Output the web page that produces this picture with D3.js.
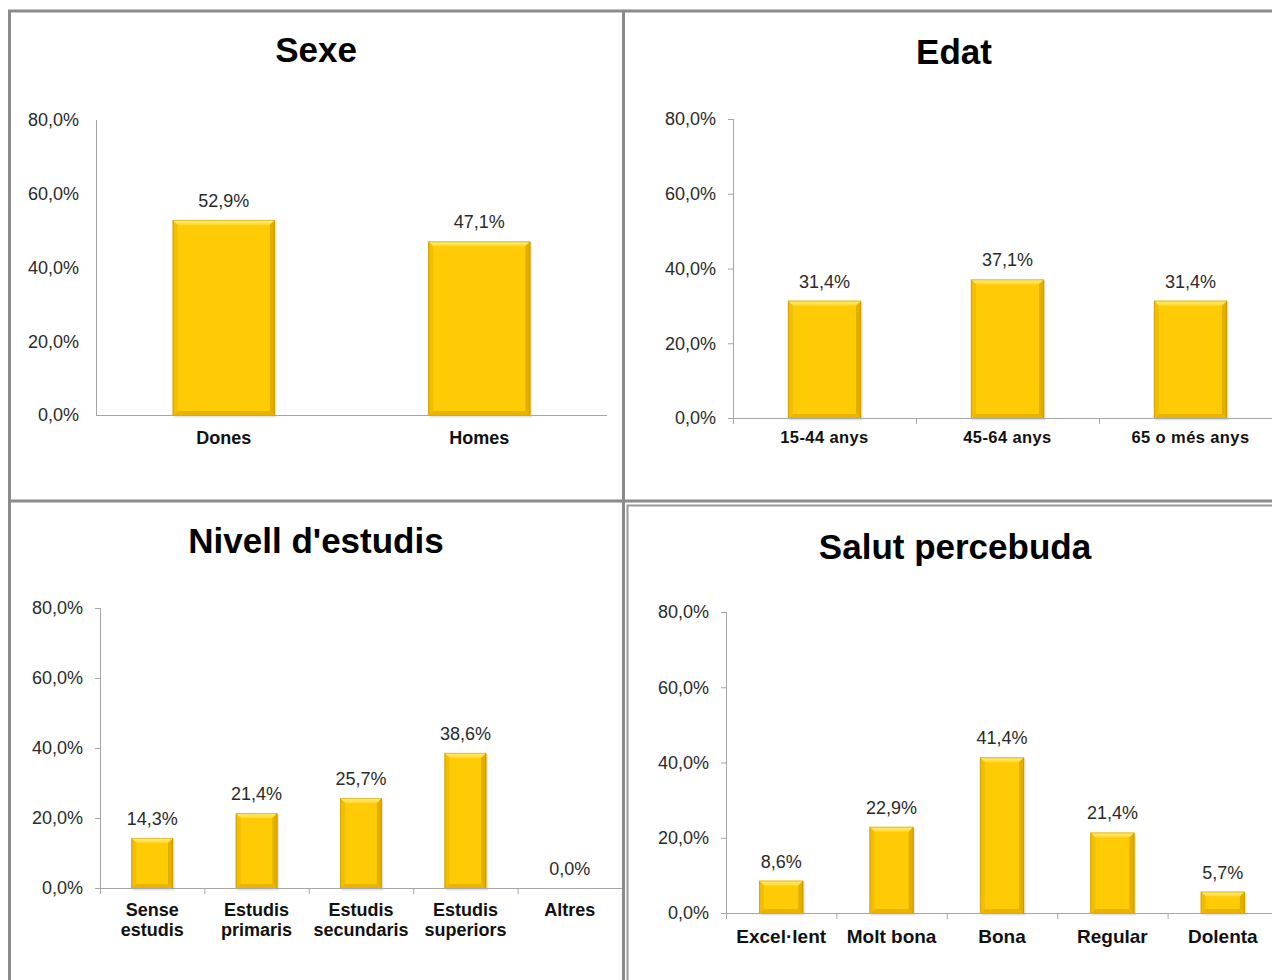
<!DOCTYPE html>
<html><head><meta charset="utf-8">
<script src="https://cdn.jsdelivr.net/npm/d3@7"></script>
<style>html,body{margin:0;padding:0;background:#fff;}svg{display:block;}</style>
</head><body>
<svg id="c" width="1272" height="980"></svg>
<script>
// ---- data ----
const yTicks = [0, 20, 40, 60, 80];
const sexeCats = ["Dones", "Homes"];
const sexeVals = [52.9, 47.1];
const edatCats = ["15-44 anys", "45-64 anys", "65 o més anys"];
const edatVals = [31.4, 37.1, 31.4];
const estudisCats = ["Sense estudis", "Estudis primaris", "Estudis secundaris", "Estudis superiors", "Altres"];
const estudisVals = [14.3, 21.4, 25.7, 38.6, 0.0];
const salutCats = ["Excel·lent", "Molt bona", "Bona", "Regular", "Dolenta"];
const salutVals = [8.6, 22.9, 41.4, 21.4, 5.7];

const loc = d3.formatLocale({decimal: ",", thousands: ".", grouping: [3], currency: ["", "€"]});
const f1 = loc.format(".1f");
const pct = v => f1(v) + "%";

const svg = d3.select("#c");
const FONT = "'Liberation Sans', Arial, sans-serif";

const defs = svg.append("defs");
function lg(id, x2, y2, stops) {
  const g = defs.append("linearGradient").attr("id", id).attr("x1", 0).attr("y1", 0).attr("x2", x2).attr("y2", y2);
  stops.forEach(s => g.append("stop").attr("offset", s[0]).attr("stop-color", s[1]));
}
lg("gTop", 0, 1, [[0, "#FFEF80"], [1, "#FFD82A"]]);

// ---- panels ----
const panels = [
  {title: "Sexe", tx: 316, ty: 62, cats: sexeCats, vals: sexeVals, ax: 96, ae: 607, y0: 415, y1: 120,
   catSize: 18, tick: 0, sep: false, catY: 444},
  {title: "Edat", tx: 954, ty: 64, cats: edatCats, vals: edatVals, ax: 733, ae: 1282, y0: 418, y1: 119,
   catSize: 16.5, tick: 5, sep: true, catY: 443, ls: 0.4},
  {title: "Nivell d'estudis", tx: 316, ty: 553, cats: estudisCats, vals: estudisVals, ax: 100, ae: 622, y0: 888, y1: 608,
   catSize: 18, tick: 5, sep: true, catY: 916, wrap: true},
  {title: "Salut percebuda", tx: 955, ty: 559, cats: salutCats, vals: salutVals, ax: 726, ae: 1278, y0: 913, y1: 612,
   catSize: 19, tick: 5, sep: true, catY: 943}
];

// ---- frame lines ----
const fr = svg.append("g").attr("stroke", "#8a8a8a").attr("stroke-width", 3).attr("fill", "none");
fr.append("line").attr("x1", 8).attr("y1", 11).attr("x2", 1272).attr("y2", 11);
fr.append("line").attr("x1", 9.5).attr("y1", 10).attr("x2", 9.5).attr("y2", 980);
fr.append("line").attr("x1", 623.5).attr("y1", 10).attr("x2", 623.5).attr("y2", 980);
fr.append("line").attr("x1", 8).attr("y1", 501).attr("x2", 1272).attr("y2", 501);
svg.append("rect").attr("x", 627.5).attr("y", 505.5).attr("width", 700).attr("height", 600)
  .attr("fill", "none").attr("stroke", "#9a9a9a").attr("stroke-width", 2);

panels.forEach(p => {
  const g = svg.append("g");
  const x = d3.scaleBand().domain(p.cats).range([p.ax, p.ae]).paddingInner(0).paddingOuter(0);
  const y = d3.scaleLinear().domain([0, 80]).range([p.y0, p.y1]);
  const bw = x.bandwidth() / 2.5;

  g.append("text").attr("x", p.tx).attr("y", p.ty).attr("text-anchor", "middle")
    .attr("font-family", FONT).attr("font-weight", "bold").attr("font-size", 35).attr("fill", "#000")
    .text(p.title);

  const yAx = g.append("g").attr("transform", `translate(${p.ax},0)`)
    .call(d3.axisLeft(y).tickValues(yTicks).tickSize(p.tick).tickPadding(17 - p.tick).tickFormat(pct));
  yAx.select(".domain").attr("stroke", "#a6a6a6").attr("d", `M0.5,${p.y1}V${p.y0}`);
  yAx.selectAll(".tick line").attr("stroke", "#a6a6a6");
  yAx.selectAll(".tick text").attr("font-family", FONT).attr("font-size", 18).attr("fill", "#2a2a2a");

  const bars = g.append("g");
  p.cats.forEach((c, i) => {
    const v = p.vals[i];
    const cx = x(c) + x.bandwidth() / 2;
    const x0 = cx - bw / 2, x1 = cx + bw / 2;
    const yt = y(v), yb = y(0) + 1;
    const h = yb - yt;
    if (v > 0) {
      const b = Math.min(5, h / 2, bw / 4);
      bars.append("rect").attr("x", x0 + 1.5).attr("y", yt + 1.5).attr("width", bw).attr("height", h)
        .attr("fill", "#000").attr("opacity", 0.1);
      bars.append("rect").attr("x", x0).attr("y", yt).attr("width", bw).attr("height", h).attr("fill", "#FFCB05");
      const poly = (pts, col) => bars.append("polygon").attr("points", pts.map(q => q.join(",")).join(" "))
        .attr("fill", col);
      poly([[x0, yt], [x1, yt], [x1 - b, yt + b], [x0 + b, yt + b]], "url(#gTop)");
      poly([[x0, yt], [x0 + b, yt + b], [x0 + b, yb - b], [x0, yb]], "#F3BE00");
      poly([[x1, yt], [x1, yb], [x1 - b, yb - b], [x1 - b, yt + b]], "#E2AE00");
      poly([[x0, yb], [x0 + b, yb - b], [x1 - b, yb - b], [x1, yb]], "#E9B400");
      bars.append("rect").attr("x", x0 + 0.5).attr("y", yt + 0.5).attr("width", bw - 1).attr("height", h - 1)
        .attr("fill", "none").attr("stroke", "#A88500").attr("stroke-width", 1).attr("opacity", 0.45);
    }
    g.append("text").attr("x", cx).attr("y", yt - 13).attr("text-anchor", "middle")
      .attr("font-family", FONT).attr("font-size", 18).attr("fill", "#2a2a2a").text(pct(v));
  });

  const xAx = g.append("g").attr("transform", `translate(0,${p.y0})`)
    .call(d3.axisBottom(x).tickSize(0).tickFormat(""));
  xAx.select(".domain").attr("stroke", "#a6a6a6").attr("d", `M${p.ax},0.5H${p.ae}`);
  if (p.sep) {
    p.cats.slice(1).forEach(c => {
      xAx.append("line").attr("x1", x(c) + 0.5).attr("x2", x(c) + 0.5).attr("y1", 0).attr("y2", 6).attr("stroke", "#a6a6a6");
    });
    xAx.append("line").attr("x1", p.ax + 0.5).attr("x2", p.ax + 0.5).attr("y1", 0).attr("y2", 6).attr("stroke", "#a6a6a6");
  }
  p.cats.forEach(c => {
    const cx = x(c) + x.bandwidth() / 2;
    const t = g.append("text").attr("x", cx).attr("y", p.catY).attr("text-anchor", "middle")
      .attr("font-family", FONT).attr("font-weight", "bold").attr("font-size", p.catSize).attr("fill", "#111");
    if (p.ls) t.attr("letter-spacing", p.ls);
    if (p.wrap) {
      c.split(" ").forEach((w, k) => t.append("tspan").attr("x", cx).attr("dy", k === 0 ? 0 : 20).text(w));
    } else t.text(c);
  });
});
</script>
</body></html>
